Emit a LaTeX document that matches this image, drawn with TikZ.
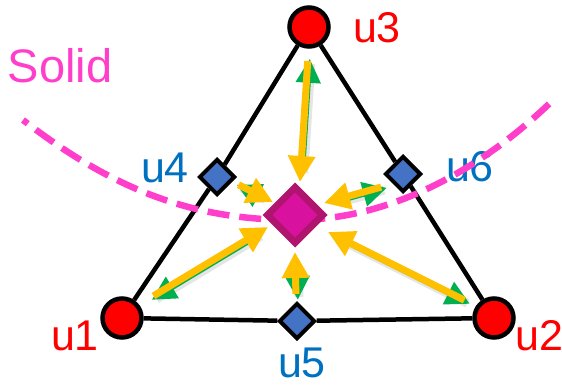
\documentclass[tikz,border=0pt]{standalone}
\usepackage{fontspec}
\setmainfont{Liberation Sans}
\usepackage{tikz}
\usetikzlibrary{arrows.meta, shapes.geometric}
\definecolor{cornerred}{HTML}{FF0000}
\definecolor{sideblue}{HTML}{4472C4}
\definecolor{labelblue}{HTML}{0070C0}
\definecolor{solidpink}{HTML}{FF3FCC}
\definecolor{hubfill}{HTML}{D8129E}
\definecolor{hubdraw}{HTML}{B0146E}
\definecolor{pullyellow}{HTML}{FFC000}
\definecolor{pushgreen}{HTML}{00B050}
\tikzset{corner/.style = {shape = circle, draw, line width = 4.5pt, fill = cornerred, minimum size = 39pt, inner sep = 0pt}}
\tikzset{side/.style = {shape = diamond, draw, line width = 4pt, fill = sideblue, minimum size = 36pt, inner sep = 0pt}}
\tikzset{hub/.style = {shape = diamond, draw = hubdraw, line width = 7pt, fill = hubfill, minimum size = 58pt, inner sep = 0pt}}
\tikzset{edge/.style = {-, line width = 4.5pt}}
\tikzset{redlabel/.style = {text = cornerred, inner sep = 0pt, font = \fontsize{43}{43}\selectfont}}
\tikzset{bluelabel/.style = {text = labelblue, inner sep = 0pt, font = \fontsize{43}{43}\selectfont}}
\tikzset{pull/.style = {pullyellow, line width = 7pt, shorten <= 4pt, -{Triangle[length = 26pt, width = 26pt]}}}
\tikzset{push/.style = {pushgreen, line width = 5pt, shorten <= 16pt, -{Triangle[length = 24pt, width = 24pt]}, transform canvas = {shift = {(1.8pt, -1.8pt)}}}}
\tikzset{shade/.style = {black, opacity = 0.1, line width = 9pt, shorten <= 4pt, shorten >= 12pt, transform canvas = {shift = {(3pt, -3pt)}}}}

\begin{document}
\begin{tikzpicture}[x = 1pt, y = -1pt]
				\useasboundingbox (0, 0) rectangle (562, 388);

				\node[corner] (u1) at (122, 318) {};
				\node[corner] (u2) at (494, 318) {};
				\node[corner] (u3) at (309, 27) {};
				\node[side] (u4) at (217, 177) {};
				\node[side] (u5) at (297, 321) {};
				\node[side] (u6) at (403, 174) {};

				\draw[edge] (u1) -- (u4);
				\draw[edge] (u4) -- (u3);
				\draw[edge] (u3) -- (u6);
				\draw[edge] (u6) -- (u2);
				\draw[edge] (u2) -- (u5);
				\draw[edge] (u5) -- (u1);

				\node[redlabel] (l1) at (75, 336) {u1};
				\node[redlabel] (l2) at (539, 336) {u2};
				\node[redlabel] (l3) at (377, 28) {u3};
				\node[bluelabel] (l4) at (165, 168) {u4};
				\node[bluelabel] (l5) at (302, 363) {u5};
				\node[bluelabel] (l6) at (470, 167) {u6};
				\node[text = solidpink, inner sep = 0pt, font = \fontsize{47}{47}\selectfont] (solid) at (60, 66) {Solid};

				% solid boundary
				\draw[solidpink, line width = 6.5pt, dash pattern = on 22pt off 10pt, dash phase = 16pt]
					(23, 120) .. controls (120, 195) and (200, 220) .. (295, 220)
					.. controls (390, 220) and (480, 170) .. (550, 103);

				\node[hub] (hub) at (295, 215) {};

				\coordinate (o1) at (150, 298);
				\coordinate (i1) at (268, 227);
				\coordinate (o2) at (468, 302);
				\coordinate (i2) at (328, 232);
				\coordinate (o3) at (308, 57);
				\coordinate (i3) at (300, 182);
				\coordinate (o4) at (235, 183);
				\coordinate (i4) at (273, 202);
				\coordinate (o5) at (296, 298);
				\coordinate (i5) at (295, 252);
				\coordinate (o6) at (385, 186);
				\coordinate (i6) at (324, 203);

				\foreach \k in {1, ..., 6} {
					\draw[shade] (o\k) -- (i\k);
					\draw[push] (i\k) -- (o\k);
					\draw[pull] (o\k) -- (i\k);
				}
			\end{tikzpicture}
\end{document}
